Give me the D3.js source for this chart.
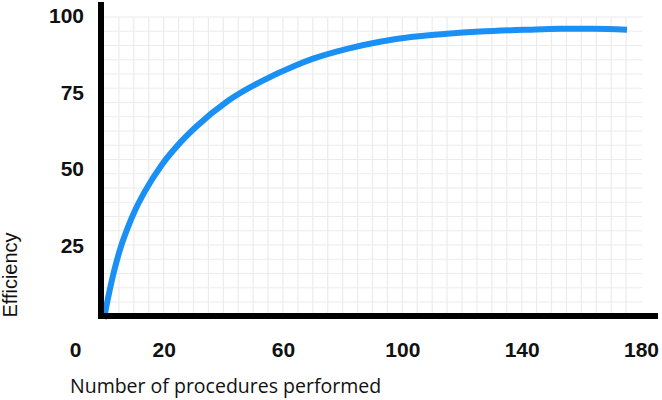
<!DOCTYPE html>
<html>
<head>
<meta charset="utf-8">
<script src="https://cdn.jsdelivr.net/npm/d3@7"></script>
<style>
	body { margin: 0; background: #fff; }
	.tick text { font-family: "Liberation Sans", Arial, sans-serif; font-weight: bold; font-size: 21px; fill: #111; }
</style>
</head>
<body>
<div id="chart"></div>
<script>
// data
var procedures = [0, 0.9, 2.0, 3.7, 5.7, 8.0, 10.5, 13.7, 19.4, 25.0, 30.5, 41.6, 52.9, 64.0, 70.1, 81.5, 92.5, 103.6, 115.0, 126.1, 141.8, 152.9, 164.0, 175.3];
var efficiency = [1, 5.6, 10.8, 17.8, 24.6, 30.8, 36.5, 42.5, 51.2, 57.8, 63.2, 72.0, 78.4, 83.4, 85.7, 88.9, 91.2, 92.8, 93.8, 94.5, 95.1, 95.4, 95.4, 95.1];
var xTicks = [0, 20, 60, 100, 140, 180];
var yTicks = [25, 50, 75, 100];

var width = 662, height = 400;

var x = d3.scaleLinear().domain([0, 180]).range([104, 641]);
var y = d3.scaleLinear().domain([0, 100]).range([322, 14.7]);

var svg = d3.select("#chart").append("svg")
	.attr("width", width)
	.attr("height", height);

////// grid //////
var gridX = d3.range(5, 180, 5);
svg.append("g").selectAll("line")
	.data(gridX)
	.enter().append("line")
	.attr("x1", function(d) { return x(d); })
	.attr("x2", function(d) { return x(d); })
	.attr("y1", 17)
	.attr("y2", 316)
	.attr("stroke", "#ececec")
	.attr("stroke-width", 1.2);

var gridY = d3.scaleLinear().domain([0, 20]).range([302, 17]);
svg.append("g").selectAll("line")
	.data(d3.range(0, 21))
	.enter().append("line")
	.attr("x1", 104)
	.attr("x2", 642)
	.attr("y1", function(d) { return gridY(d); })
	.attr("y2", function(d) { return gridY(d); })
	.attr("stroke", "#ececec")
	.attr("stroke-width", 1.2);

////// curve //////
var line = d3.line()
	.x(function(d) { return x(d[0]); })
	.y(function(d) { return y(d[1]); })
	.curve(d3.curveMonotoneX);

svg.append("path")
	.datum(d3.zip(procedures, efficiency))
	.attr("d", line)
	.attr("fill", "none")
	.attr("stroke", "#1a90f5")
	.attr("stroke-width", 6);

////// axis lines //////
svg.append("line")
	.attr("x1", 101).attr("x2", 101)
	.attr("y1", 2).attr("y2", 319)
	.attr("stroke", "#000").attr("stroke-width", 6);
svg.append("line")
	.attr("x1", 98).attr("x2", 658)
	.attr("y1", 316).attr("y2", 316)
	.attr("stroke", "#000").attr("stroke-width", 6);

////// tick labels //////
var xAxis = svg.append("g")
	.attr("transform", "translate(0,349)")
	.call(d3.axisBottom(x).tickValues(xTicks).tickSize(0).tickPadding(0));
xAxis.select(".domain").remove();
xAxis.selectAll("text")
	.attr("y", 0)
	.attr("dy", "0.36em")
	.attr("dx", function(d) { return d === 0 ? -29 : 0; });

var yAxis = svg.append("g")
	.attr("transform", "translate(84,0)")
	.call(d3.axisLeft(y).tickValues(yTicks).tickSize(0).tickPadding(0));
yAxis.select(".domain").remove();
yAxis.selectAll("text").attr("dy", "0.36em");

////// titles //////
svg.append("text")
	.attr("transform", "translate(17,275) rotate(-90)")
	.attr("text-anchor", "middle")
	.style("font-family", "'Liberation Sans', Arial, sans-serif")
	.style("font-size", "20px")
	.style("fill", "#111")
	.text("Efficiency");

svg.append("text")
	.attr("x", 70)
	.attr("y", 393)
	.style("font-family", "'Open Sans', sans-serif")
	.style("font-size", "19.5px")
	.style("fill", "#111")
	.text("Number of procedures performed");
</script>
</body>
</html>
